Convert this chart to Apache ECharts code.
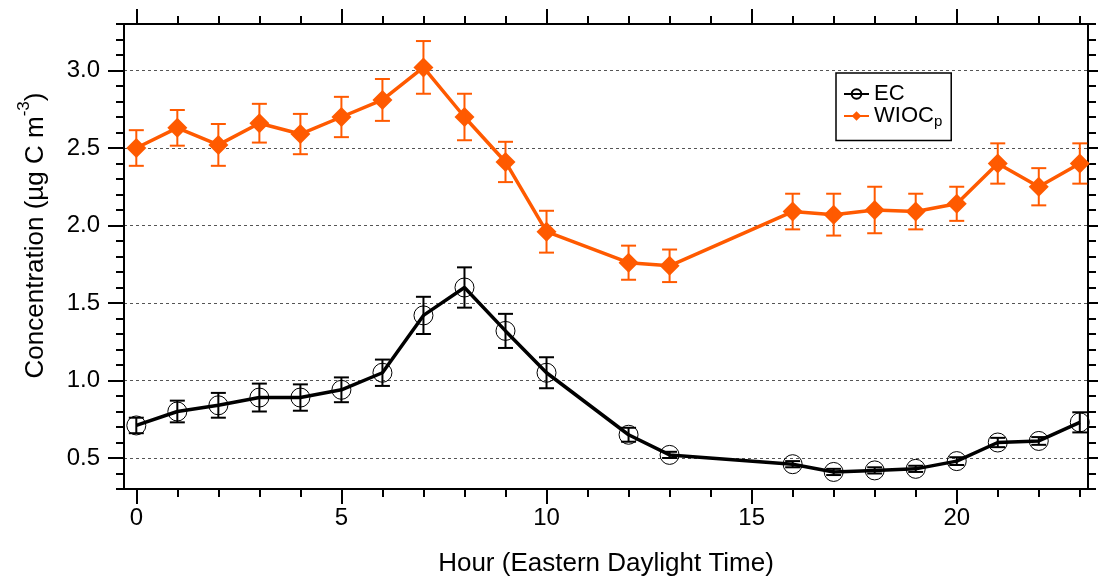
<!DOCTYPE html>
<html><head><meta charset="utf-8">
<script src="https://cdn.jsdelivr.net/npm/echarts@6/dist/echarts.min.js"></script>
<style>html,body{margin:0;padding:0;background:#fff}#c{width:1098px;height:577px}</style>
</head><body><div id="c"></div>
<script>
const hours = [0,1,2,3,4,5,6,7,8,9,10,12,13,16,17,18,19,20,21,22,23];
const ecValues = [0.71,0.80,0.84,0.89,0.89,0.94,1.05,1.42,1.60,1.32,1.05,0.65,0.52,0.46,0.41,0.42,0.43,0.48,0.60,0.61,0.73];
const ecErrors = [0.05,0.07,0.08,0.09,0.085,0.08,0.085,0.12,0.13,0.11,0.10,0.045,0.02,0.02,0.02,0.02,0.02,0.025,0.03,0.025,0.065];
const wiocValues = [2.50,2.63,2.52,2.66,2.59,2.70,2.81,3.02,2.70,2.41,1.96,1.76,1.74,2.09,2.07,2.10,2.09,2.14,2.40,2.25,2.40];
const wiocErrors = [0.115,0.115,0.135,0.125,0.13,0.13,0.135,0.17,0.15,0.13,0.135,0.11,0.105,0.115,0.135,0.15,0.115,0.11,0.13,0.12,0.13];
const xMajorTicks = [0,5,10,15,20];
const xMinorTicks = [0,1,2,3,4,5,6,7,8,9,10,11,12,13,14,15,16,17,18,19,20,21,22,23];
const yMajorTicks = [0.5,1.0,1.5,2.0,2.5,3.0];
const yMinorTicks = [0.3,0.4,0.5,0.6,0.7,0.8,0.9,1.0,1.1,1.2,1.3,1.4,1.5,1.6,1.7,1.8,1.9,2.0,2.1,2.2,2.3,2.4,2.5,2.6,2.7,2.8,2.9,3.0,3.1,3.2,3.3];

const FONT = 'Liberation Sans';
const ORANGE = '#ff5a00';
const X_MIN = -0.3, X_MAX = 23.2, Y_MIN = 0.3, Y_MAX = 3.3;

function pairs(vals, errs) {
  return hours.map((h, i) => [h, vals[i], vals[i] - errs[i], vals[i] + errs[i]]);
}

function errorBarRender(color) {
  return function (params, api) {
    const x = api.value(0);
    const lo = api.coord([x, api.value(2)]);
    const hi = api.coord([x, api.value(3)]);
    const cap = 7.5;
    const style = { stroke: color, lineWidth: 2 };
    return {
      type: 'group',
      children: [
        { type: 'line', shape: { x1: lo[0], y1: lo[1], x2: hi[0], y2: hi[1] }, style },
        { type: 'line', shape: { x1: lo[0] - cap, y1: lo[1], x2: lo[0] + cap, y2: lo[1] }, style },
        { type: 'line', shape: { x1: hi[0] - cap, y1: hi[1], x2: hi[0] + cap, y2: hi[1] }, style }
      ]
    };
  };
}

function xAxisDef(pos, ticks, len, showLine, labels, name) {
  return {
    type: 'value', position: pos, min: X_MIN, max: X_MAX,
    axisLine: { show: showLine, onZero: false, lineStyle: { color: '#000', width: 2 } },
    axisTick: { show: true, inside: false, customValues: ticks, length: len, lineStyle: { color: '#000', width: 2 } },
    axisLabel: labels ? { show: true, customValues: ticks, margin: 17, color: '#000', fontSize: 24, fontFamily: FONT } : { show: false },
    splitLine: { show: false },
    name: name || '', nameLocation: 'middle', nameGap: 62,
    nameTextStyle: { color: '#000', fontSize: 26, fontFamily: FONT }
  };
}
function yAxisDef(pos, ticks, len, showLine, labels, grid) {
  const a = {
    type: 'value', position: pos, min: Y_MIN, max: Y_MAX,
    axisLine: { show: showLine, onZero: false, lineStyle: { color: '#000', width: 2 } },
    axisTick: { show: true, inside: false, customValues: ticks, length: len, lineStyle: { color: '#000', width: 2 } },
    axisLabel: labels ? { show: true, customValues: ticks, margin: 24, color: '#000', fontSize: 24, fontFamily: FONT, formatter: v => Number(v).toFixed(1) } : { show: false },
    splitLine: grid ? { show: true, lineStyle: { color: '#555', width: 1, type: [3, 3] } } : { show: false }
  };
  if (labels) {
    a.name = 'Concentration (µg C m{sup|-3})';
    a.nameLocation = 'middle';
    a.nameGap = 64;
    a.nameTextStyle = { color: '#000', fontSize: 26, fontFamily: FONT, lineHeight: 40, padding: [0, 0, 0, 42],
      rich: { sup: { fontSize: 17, fontFamily: FONT, color: '#000', verticalAlign: 'top', lineHeight: 17 } } };
  }
  return a;
}

const chart = echarts.init(document.getElementById('c'), null, { renderer: 'canvas' });
chart.setOption({
  animation: false,
  backgroundColor: '#fff',
  grid: { left: 124, right: 10, top: 24, bottom: 88, containLabel: false, outerBoundsMode: 'none' },
  xAxis: [
    xAxisDef('bottom', xMajorTicks, 15, true, true, 'Hour (Eastern Daylight Time)'),
    xAxisDef('bottom', xMinorTicks, 8, false, false),
    xAxisDef('top', xMajorTicks, 15, true, false),
    xAxisDef('top', xMinorTicks, 8, false, false)
  ],
  yAxis: [
    yAxisDef('left', yMajorTicks, 16, true, true, true),
    yAxisDef('left', yMinorTicks, 8, false, false, false),
    yAxisDef('right', yMajorTicks, 16, true, false, false),
    yAxisDef('right', yMinorTicks, 8, false, false, false)
  ],
  legend: {
    orient: 'vertical', left: 836, top: 73,
    borderColor: '#000', borderWidth: 1.5, padding: [10, 9, 11, 7],
    itemWidth: 25, itemHeight: 12, itemGap: 0,
    data: ['EC', 'WIOCp'],
    formatter: n => n === 'WIOCp' ? '{m|WIOC}{s|p}' : '{m|EC}',
    textStyle: { color: '#000', fontFamily: FONT, fontSize: 22,
      rich: { m: { fontSize: 22, fontFamily: FONT, color: '#000', lineHeight: 25 },
              s: { fontSize: 15, fontFamily: FONT, color: '#000', verticalAlign: 'bottom', lineHeight: 27 } } }
  },
  series: [
    {
      name: 'EC', type: 'line', data: hours.map((h, i) => [h, ecValues[i]]),
      symbol: 'circle', symbolSize: 19,
      itemStyle: { color: 'rgba(0,0,0,0)', borderColor: '#000', borderWidth: 1 },
      lineStyle: { color: '#000', width: 3.5 }, z: 3
    },
    {
      name: 'WIOCp', type: 'line', data: hours.map((h, i) => [h, wiocValues[i]]),
      symbol: 'diamond', symbolSize: 20,
      itemStyle: { color: ORANGE },
      lineStyle: { color: ORANGE, width: 3.5 }, z: 3
    },
    {
      name: 'EC err', type: 'custom', data: pairs(ecValues, ecErrors),
      renderItem: errorBarRender('#000'), encode: { x: 0, y: [1, 2, 3] }, z: 4, silent: true
    },
    {
      name: 'WIOC err', type: 'custom', data: pairs(wiocValues, wiocErrors),
      renderItem: errorBarRender(ORANGE), encode: { x: 0, y: [1, 2, 3] }, z: 4, silent: true
    }
  ]
});
</script></body></html>
